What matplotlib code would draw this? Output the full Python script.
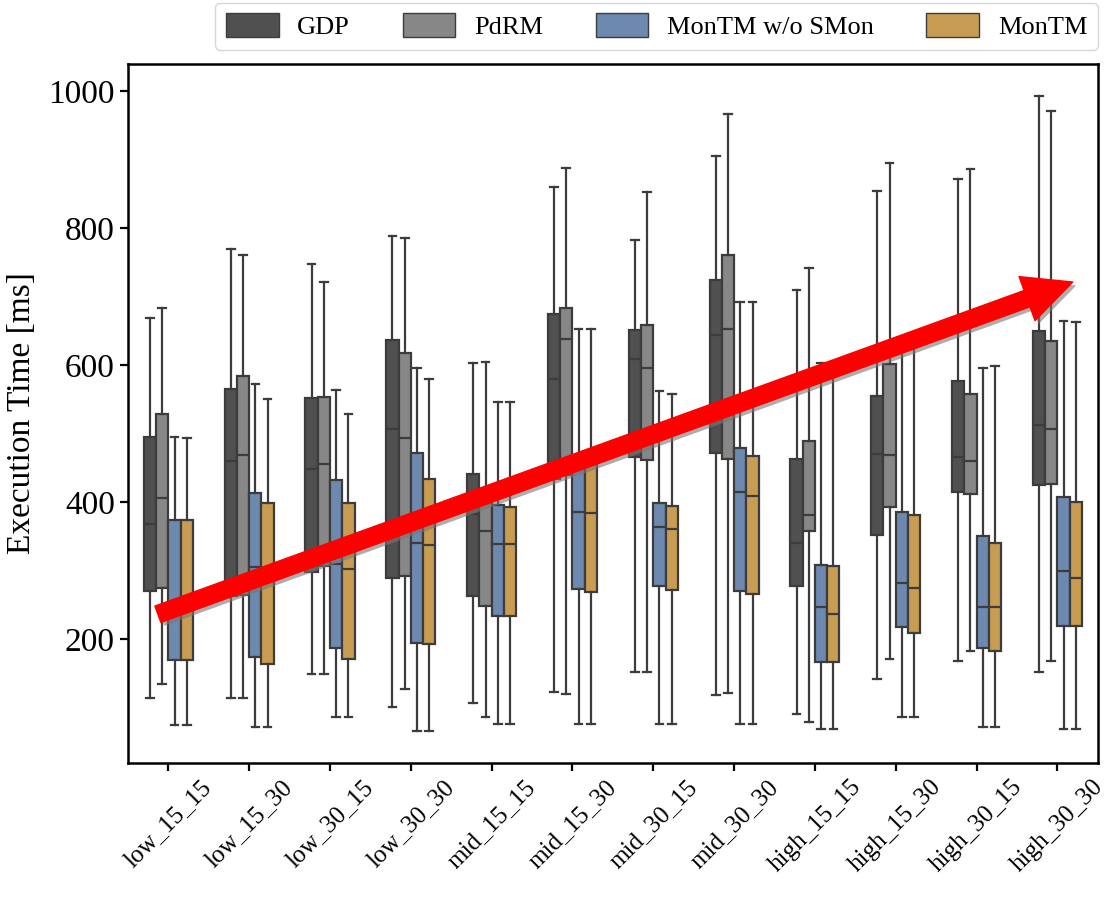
import numpy as np
import matplotlib
matplotlib.use("Agg")
import matplotlib.pyplot as plt
import matplotlib.patheffects as pe
from matplotlib.patches import Patch

plt.rcParams['font.family'] = ['Liberation Serif', 'DejaVu Serif']

configs = ['low_15_15', 'low_15_30', 'low_30_15', 'low_30_30',
           'mid_15_15', 'mid_15_30', 'mid_30_15', 'mid_30_30',
           'high_15_15', 'high_15_30', 'high_30_15', 'high_30_30']

methods = ['GDP', 'PdRM', 'MonTM w/o SMon', 'MonTM']
colors = ['#505050', '#878787', '#6e89b0', '#c89c52']

# box summaries per config: [whisker low, q1, median, q3, whisker high]
gdp = [[113, 270, 368, 495, 668], [113, 262, 460, 565, 769],
       [149, 297, 448, 552, 747], [100, 289, 507, 637, 788],
       [107, 262, 383, 441, 603], [123, 433, 579, 674, 860],
       [152, 466, 609, 651, 783], [118, 471, 644, 724, 905],
       [91, 277, 340, 462, 709], [142, 352, 470, 554, 854],
       [168, 414, 465, 576, 872], [152, 424, 513, 649, 993]]

pdrm = [[134, 274, 405, 528, 683], [113, 264, 468, 584, 760],
        [149, 307, 455, 553, 721], [127, 292, 493, 617, 785],
        [86, 248, 358, 410, 605], [120, 440, 638, 683, 888],
        [152, 461, 595, 658, 852], [121, 462, 652, 760, 966],
        [78, 357, 381, 489, 742], [171, 392, 468, 601, 895],
        [183, 411, 460, 558, 886], [168, 426, 507, 635, 971]]

montm_wo = [[75, 169, 245, 373, 495], [71, 173, 305, 413, 572],
            [86, 186, 309, 432, 563], [65, 194, 340, 472, 595],
            [76, 234, 339, 395, 546], [76, 273, 386, 455, 652],
            [76, 277, 364, 398, 562], [76, 270, 414, 479, 692],
            [68, 166, 246, 308, 603], [86, 217, 282, 385, 628],
            [71, 187, 246, 350, 595], [68, 219, 299, 407, 664]]

montm = [[74, 169, 243, 373, 493], [71, 164, 292, 398, 550],
         [86, 171, 302, 398, 529], [65, 192, 337, 434, 579],
         [76, 234, 338, 393, 546], [76, 268, 384, 460, 652],
         [76, 272, 360, 394, 557], [76, 265, 409, 467, 692],
         [68, 166, 237, 307, 603], [86, 209, 275, 381, 630],
         [71, 183, 246, 340, 599], [68, 219, 289, 400, 662]]

# trend arrow: (x, y) start and tip in data units
trend_start = (-0.13, 236)
trend_end = (11.19, 721)

fig = plt.figure(figsize=(11.1, 9.01), dpi=100)
ax = fig.add_axes([0.1153, 0.153, 0.8737, 0.776])

line_col = '#3c3c3c'
lw = 1.6
w = 0.152
x = np.arange(len(configs))

for j, (data, col) in enumerate(zip([gdp, pdrm, montm_wo, montm], colors)):
    stats = [dict(whislo=r[0], q1=r[1], med=r[2], q3=r[3], whishi=r[4], fliers=[])
             for r in data]
    ax.bxp(stats, positions=x + (j - 1.5) * w, widths=w, capwidths=0.095,
           patch_artist=True, showfliers=False, manage_ticks=False,
           boxprops=dict(facecolor=col, edgecolor=line_col, linewidth=lw),
           medianprops=dict(color=line_col, linewidth=lw),
           whiskerprops=dict(color=line_col, linewidth=lw),
           capprops=dict(color=line_col, linewidth=lw))

ax.set_xlim(-0.5, len(configs) - 0.5)
ax.margins(y=0.05)
ax.autoscale(axis='y')
ax.set_xticks(x)
ax.set_xticklabels(configs, rotation=45, fontsize=18)
ax.set_yticks([200, 400, 600, 800, 1000])
ax.tick_params(axis='y', labelsize=24, width=1.6, length=6)
ax.tick_params(axis='x', width=1.6, length=6, pad=3)
ax.set_ylabel('Execution Time [ms]', fontsize=24, labelpad=8)
for s in ax.spines.values():
    s.set_linewidth(1.8)

ax.annotate('', xy=trend_end, xytext=trend_start,
            arrowprops=dict(arrowstyle='simple,head_length=2.8,head_width=2.7,tail_width=1',
                            mutation_scale=12.5, color='#ff0000', shrinkA=0, shrinkB=0,
                            path_effects=[pe.SimplePatchShadow(offset=(2.5, -2.5),
                                                               shadow_rgbFace='#777777', alpha=0.6),
                                          pe.Normal()]),
            zorder=10)

handles = [Patch(facecolor=c, edgecolor=line_col, linewidth=1.0) for c in colors]
fig.legend(handles, methods, loc='upper right', bbox_to_anchor=(0.989, 0.997),
           ncol=4, fontsize=19, handlelength=2.0, handleheight=1.0,
           handletextpad=0.7, columnspacing=2.0, borderaxespad=0,
           frameon=True, fancybox=True, edgecolor='#cccccc')

fig.savefig('out.png', dpi=100)
